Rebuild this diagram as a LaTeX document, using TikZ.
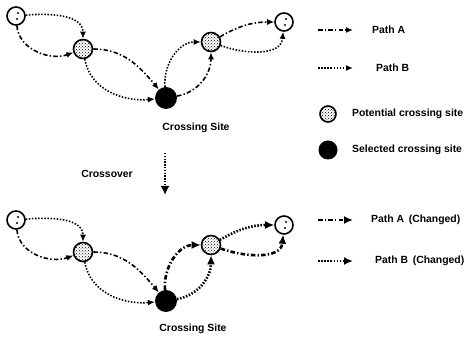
\documentclass[tikz,border=0pt]{standalone}
\usepackage{fontspec}
\setmainfont{Liberation Sans}
\usetikzlibrary{arrows.meta,patterns}

\tikzset{
  site/.style={circle, draw, line width=1.6pt, inner sep=0pt, minimum size=18pt},
  endsite/.style={site, fill=white, path picture={
      \fill[black] ([shift={(2pt,3pt)}]path picture bounding box.center) circle (1.1pt);
      \fill[black] ([shift={(1pt,-3pt)}]path picture bounding box.center) circle (1.1pt);}},
  potsite/.style={site, minimum size=19pt, pattern=crosshatch dots},
  selsite/.style={circle, fill=black, inner sep=0pt, minimum size=22pt},
  patha/.style={-{Latex[length=7pt,width=6pt]}, line width=1.6pt,
      dash pattern=on 4.5pt off 2.2pt on 1.4pt off 2.2pt},
  pathb/.style={-{Latex[length=7pt,width=6pt]}, line width=1.6pt,
      dash pattern=on 1.5pt off 1.6pt},
  changed/.style={line width=2.6pt, -{Latex[length=9pt,width=8pt]}},
  lbl/.style={font=\bfseries\fontsize{10.4}{12}\selectfont, inner sep=0pt},
}

\begin{document}
\begin{tikzpicture}[x=1pt, y=1pt]
\useasboundingbox (0,0) rectangle (468,339);
% Sites before crossover
\node[endsite] (s1) at (16,323) {};
\node[potsite] (p1) at (83,290) {};
\node[selsite] (x1) at (166,241) {};
\node[potsite] (p2) at (211,297) {};
\node[endsite] (e1) at (284,317) {};
\node[lbl] (cs1) at (196,211) {Crossing Site};
% Paths before crossover
\draw[pathb] (s1) to[out=5, in=90] (p1);
\draw[patha] (s1) to[out=-85, in=200] (p1);
\draw[patha] (p1) to[out=0, in=130] (x1);
\draw[pathb] (p1) to[out=-80, in=185] (x1);
\draw[pathb] (x1) to[out=95, in=180] (p2);
\draw[patha] (x1) to[out=10, in=-90] (p2);
\draw[patha] (p2) to[out=30, in=180] (e1);
\draw[pathb] (p2) to[out=-20, in=-95] (e1);
% Crossover arrow
\node[lbl] (cross) at (107,165) {Crossover};
\coordinate (ctop) at (165,186);
\coordinate (cbot) at (165,144);
\draw[line width=2.8pt, dash pattern=on 1.4pt off 1.4pt,
      -{Latex[length=9pt,width=9pt]}] (ctop) -- (cbot);
% Sites after crossover
\node[endsite] (s2) at (16,119) {};
\node[potsite] (p3) at (83,87) {};
\node[selsite] (x2) at (166,38) {};
\node[potsite] (p4) at (211,94) {};
\node[endsite] (e2) at (284,114) {};
\node[lbl] (cs2) at (193,10) {Crossing Site};
% Paths after crossover
\draw[pathb] (s2) to[out=5, in=90] (p3);
\draw[patha] (s2) to[out=-85, in=200] (p3);
\draw[patha] (p3) to[out=0, in=130] (x2);
\draw[pathb] (p3) to[out=-80, in=185] (x2);
\draw[patha, changed] (x2) to[out=95, in=180] (p4);
\draw[pathb, changed] (x2) to[out=10, in=-90] (p4);
\draw[pathb, changed] (p4) to[out=30, in=180] (e2);
\draw[patha, changed] (p4) to[out=-20, in=-95] (e2);
% Legend
\coordinate (la1) at (318,309); \coordinate (la2) at (353,309);
\coordinate (lb1) at (318,271); \coordinate (lb2) at (353,271);
\coordinate (lc1) at (318,119); \coordinate (lc2) at (353,119);
\coordinate (ld1) at (318,78);  \coordinate (ld2) at (353,78);
\draw[patha] (la1) -- (la2);
\node[lbl, anchor=west] (ta) at (372,309) {Path A};
\draw[pathb] (lb1) -- (lb2);
\node[lbl, anchor=west] (tb) at (376,271) {Path B};
\node[potsite, minimum size=16pt] (lp) at (328,225) {};
\node[lbl, anchor=west] (tp) at (352,225) {Potential crossing site};
\node[selsite, minimum size=19pt] (ls) at (328,189) {};
\node[lbl, anchor=west] (ts) at (352,189) {Selected crossing site};
\draw[patha, changed] (lc1) -- (lc2);
\node[lbl, anchor=west] (tc) at (371,119) {Path A\hspace{0.45em}(Changed)};
\draw[pathb, changed] (ld1) -- (ld2);
\node[lbl, anchor=west] (td) at (375,78) {Path B\hspace{0.45em}(Changed)};
\end{tikzpicture}
\end{document}
